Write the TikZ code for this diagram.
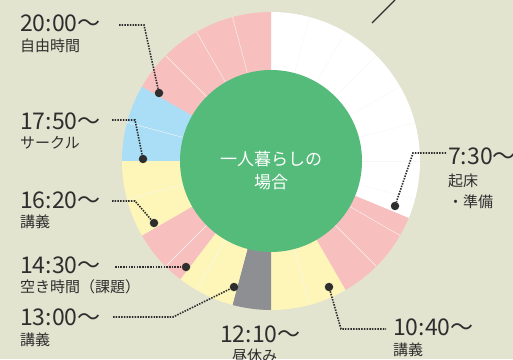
\documentclass[tikz,border=0pt]{standalone}
\usepackage{fontspec}
\setmainfont{Noto Sans CJK JP}
\definecolor{bg}{HTML}{E3E4D0}
\definecolor{ink}{HTML}{2E2E2E}
\definecolor{pnk}{HTML}{F8BFBF}
\definecolor{ylw}{HTML}{FDF6B8}
\definecolor{blu}{HTML}{AADEF6}
\definecolor{gry}{HTML}{8E8F93}
\definecolor{grn}{HTML}{55BB7A}
% slice from hour #1 to hour #2, clockwise from the top
\newcommand{\hourslice}[3]{\fill[#3](0,0)--({90-15*#1}:149)arc[start angle={90-15*#1},end angle={90-15*#2},radius=149]--cycle;}
\begin{document}
\begin{tikzpicture}[x=1pt,y=1pt,
  lead/.style={ink,line width=1.6pt,dash pattern=on 1.5pt off 1.2pt},
  dot/.style={circle,fill=ink,inner sep=0pt,minimum size=8.5pt},
  tm/.style={anchor=base west,inner sep=0pt,text=ink,font=\fontsize{23}{23}\selectfont},
  sub/.style={anchor=base west,inner sep=0pt,text=ink,font=\fontsize{15}{15}\selectfont}]
\fill[bg](0,0)rectangle(513,359);
\useasboundingbox(0,0)rectangle(513,359);
\draw[ink,line width=1.2pt](372,336)--(395,359);

\begin{scope}[shift={(271,198)}]
\hourslice{0}{7.5}{white}
\hourslice{7.5}{10}{pnk}
\hourslice{10}{12}{ylw}
\hourslice{12}{13}{gry}
\hourslice{13}{14.5}{ylw}
\hourslice{14.5}{16}{pnk}
\hourslice{16}{18}{ylw}
\hourslice{18}{20}{blu}
\hourslice{20}{24}{pnk}
\foreach \h in {1,...,9,11,14,15,17,19,21,22,23}
  \draw[black!3,line width=.4pt]({90-15*\h}:91)--({90-15*\h}:149);
\fill[grn](0,0)circle(91);
\node[text=white,align=center,font=\fontsize{17}{23}\selectfont](mid)at(0,-10){一人暮らしの\\場合};
\end{scope}

\node[dot](p20)at(159,266){};
\node[dot](p17)at(143,200){};
\node[dot](p16)at(154,136){};
\node[dot](p14)at(186,92){};
\node[dot](p13)at(234,72){};
\node[dot](p10)at(329,72){};
\node[dot](p7)at(395,153){};

\node[tm](t20)at(20,327){20:00～};
\node[sub](d20)at(20,307){自由時間};
\node[tm](t17)at(20,229){17:50～};
\node[sub](d17)at(20,210){サークル};
\node[tm](t16)at(20,151){16:20～};
\node[sub](d16)at(20,132){講義};
\node[tm](t14)at(20,86){14:30～};
\node[sub](d14)at(20,67){空き時間（課題）};
\node[tm](t13)at(20,34){13:00～};
\node[sub](d13)at(20,14){講義};
\node[tm](t12)at(220,17){12:10～};
\node[sub](d12)at(232,-2){昼休み};
\node[tm](t10)at(393,24){10:40～};
\node[sub](d10)at(393,4){講義};
\node[tm](t7)at(448,194){7:30～};
\node[sub](d7)at(448,173){起床};
\node[sub](e7)at(448,152){・準備};

\coordinate(s20)at(119,334);
\coordinate(s17)at(112,239);
\coordinate(s16)at(112,158);
\coordinate(s14)at(115,92);
\coordinate(s13)at(113,42);
\coordinate(s10)at(386,30);
\coordinate(s7)at(446,206);
\draw[lead](s20)--(144,334)--(p20);
\draw[lead](s17)--(135,239)--(p17);
\draw[lead](s16)--(135,158)--(p16);
\draw[lead](s14)--(p14);
\draw[lead](s13)--(173,42)--(p13);
\draw[lead](p10)--(341,30)--(s10);
\draw[lead](s7)--(413,206)--(p7);
\end{tikzpicture}
\end{document}
